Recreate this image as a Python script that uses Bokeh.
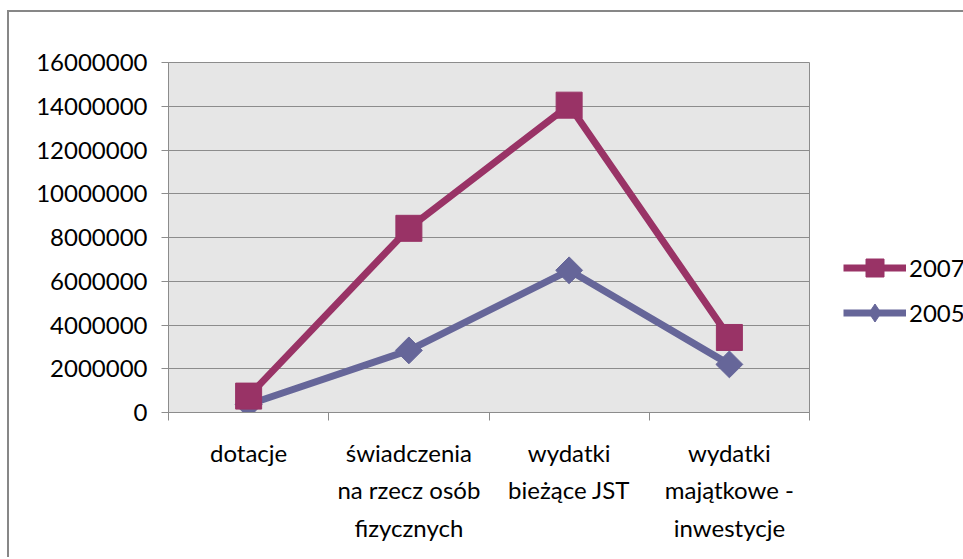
from bokeh.plotting import figure
from bokeh.models import (Range1d, FixedTicker, NumeralTickFormatter, Legend, LegendItem,
                          ColumnDataSource)
from bokeh.embed import file_html
from bokeh.resources import INLINE
import numpy as np

categories = ["dotacje", "świadczenia\nna rzecz osób\nfizycznych", "wydatki\nbieżące JST",
              "wydatki\nmajątkowe -\ninwestycje"]
series_2007 = [750000, 8420000, 14050000, 3430000]
series_2005 = [370000, 2840000, 6500000, 2200000]
y_ticks = [0, 2000000, 4000000, 6000000, 8000000, 10000000, 12000000, 14000000, 16000000]

C2007 = "#993366"
C2005 = "#666699"
FONT = "Lato"
FS = "24px"

x = [i + 0.5 for i in range(len(categories))]

p = figure(width=947, height=545, output_backend="svg", toolbar_location=None,
           x_range=Range1d(0, len(categories)), y_range=Range1d(0, 16000000),
           min_border_left=159, min_border_top=50, min_border_right=147, min_border_bottom=145,
           frame_width=641, frame_height=350)
p.margin = (10, 0, 0, 7)
p.styles = {"border-top": "2px solid #878787", "border-left": "2px solid #878787"}

p.background_fill_color = "#E6E6E6"
p.border_fill_color = "white"
p.outline_line_color = "#8c8c8c"
p.outline_line_width = 1

p.xgrid.visible = False
p.ygrid.ticker = FixedTicker(ticks=y_ticks)
p.ygrid.grid_line_color = "#8c8c8c"
p.ygrid.grid_line_width = 1

# y axis
p.yaxis.ticker = FixedTicker(ticks=y_ticks)
p.yaxis.formatter = NumeralTickFormatter(format="0")
p.yaxis.axis_line_color = "#8c8c8c"
p.yaxis.major_tick_line_color = "#8c8c8c"
p.yaxis.major_tick_in = 0
p.yaxis.major_tick_out = 7
p.yaxis.minor_tick_line_color = None
p.yaxis.major_label_standoff = 14
p.yaxis.major_label_text_font = FONT
p.yaxis.major_label_text_font_size = FS
p.yaxis.major_label_text_color = "black"

# x axis
p.xaxis.ticker = FixedTicker(ticks=x, minor_ticks=list(range(len(categories) + 1)))
p.xaxis.major_label_overrides = {xi: c for xi, c in zip(x, categories)}
p.xaxis.axis_line_color = "#8c8c8c"
p.xaxis.major_tick_line_color = None
p.xaxis.major_tick_in = 0
p.xaxis.major_tick_out = 0
p.xaxis.minor_tick_line_color = "#8c8c8c"
p.xaxis.minor_tick_in = 0
p.xaxis.minor_tick_out = 8
p.xaxis.major_label_standoff = 17
p.xaxis.major_label_text_font = FONT
p.xaxis.major_label_text_font_size = FS
p.xaxis.major_label_text_color = "black"
p.xaxis.major_label_text_line_height = 1.3

src = ColumnDataSource(dict(x=x, y07=series_2007, y05=series_2005))

l05 = p.line("x", "y05", source=src, line_color=C2005, line_width=7)
d05 = p.scatter("x", "y05", source=src, marker="diamond", size=25,
                fill_color=C2005, line_color=C2005)
m05 = p.scatter("x", "y05", source=src, marker="square", angle=np.pi / 4, size=19,
                fill_color=C2005, line_color=C2005)
l07 = p.line("x", "y07", source=src, line_color=C2007, line_width=7)
m07 = p.scatter("x", "y07", source=src, marker="square", size=26,
                fill_color=C2007, line_color=C2007)

legend = Legend(items=[LegendItem(label="2007", renderers=[l07, m07]),
                       LegendItem(label="2005", renderers=[l05, d05])],
                location=(34, 77), orientation="vertical")
legend.glyph_width = 63
legend.glyph_height = 45
legend.spacing = 0
legend.padding = 0
legend.margin = 0
legend.label_standoff = 3
legend.border_line_color = None
legend.background_fill_alpha = 0
legend.label_text_font = FONT
legend.label_text_font_size = FS
legend.label_text_color = "black"
p.add_layout(legend, "right")

open("out.html", "w").write(file_html(p, INLINE))
